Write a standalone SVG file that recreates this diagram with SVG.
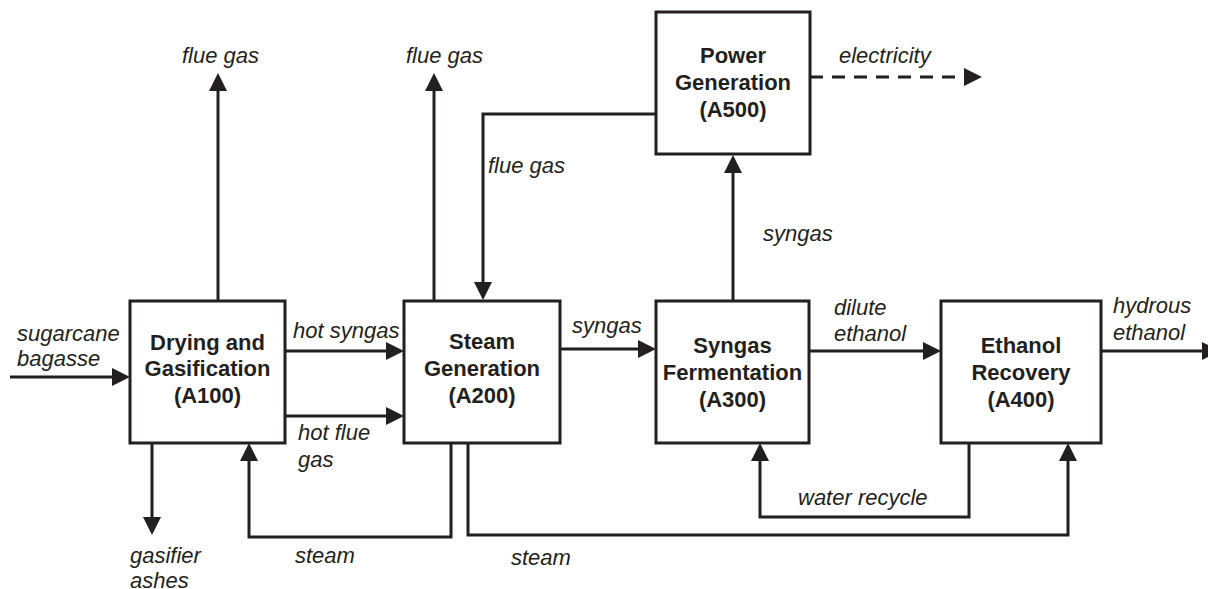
<svg xmlns="http://www.w3.org/2000/svg" width="1208" height="589" viewBox="0 0 1208 589">
<style>
.box{fill:#fff;stroke:#231f20;stroke-width:3}
.bt{font-family:"Liberation Sans",Arial,sans-serif;font-weight:bold;font-size:22px;fill:#231f20;text-anchor:middle}
.lb{font-family:"Liberation Sans",Arial,sans-serif;font-style:italic;font-size:22px;fill:#231f20}
.c{fill:none;stroke:#231f20;stroke-width:3;marker-end:url(#ah)}
.d{stroke-dasharray:13 9}
</style>
<defs>
<marker id="ah" markerUnits="userSpaceOnUse" markerWidth="18" markerHeight="18" refX="2" refY="9" orient="auto" viewBox="0 0 18 18">
<path d="M0,0 L18,9 L0,18 z" fill="#231f20"/>
</marker>
</defs>
<rect width="1208" height="589" fill="#fff"/>
<g id="connectors">
<path class="c" d="M10,377 H114"/>
<path class="c" d="M285,351 H388"/>
<path class="c" d="M285,416 H388"/>
<path class="c" d="M218,301 V89"/>
<path class="c" d="M434,300 V89"/>
<path class="c" d="M656,114 H483 V284"/>
<path class="c" d="M733,300 V171"/>
<path class="c d" d="M810,77 H966"/>
<path class="c" d="M560,349 H640"/>
<path class="c" d="M809,351 H925"/>
<path class="c" d="M1101,351 H1204"/>
<path class="c" d="M969,443 V517 H760 V459"/>
<path class="c" d="M451,443 V537 H249 V459"/>
<path class="c" d="M468,443 V535 H1068 V459"/>
<path class="c" d="M152,443 V519"/>
</g>
<g id="A100">
<rect class="box" x="130" y="301" width="155" height="142"/>
<text class="bt" x="207.5" y="350">Drying and</text>
<text class="bt" x="207.5" y="376">Gasification</text>
<text class="bt" x="207.5" y="403">(A100)</text>
</g>
<g id="A200">
<rect class="box" x="404" y="301" width="156" height="142"/>
<text class="bt" x="482" y="349">Steam</text>
<text class="bt" x="482" y="376">Generation</text>
<text class="bt" x="482" y="403">(A200)</text>
</g>
<g id="A300">
<rect class="box" x="656" y="301" width="153" height="142"/>
<text class="bt" x="732.5" y="353">Syngas</text>
<text class="bt" x="732.5" y="380">Fermentation</text>
<text class="bt" x="732.5" y="407">(A300)</text>
</g>
<g id="A400">
<rect class="box" x="941" y="301" width="160" height="142"/>
<text class="bt" x="1021" y="353">Ethanol</text>
<text class="bt" x="1021" y="380">Recovery</text>
<text class="bt" x="1021" y="407">(A400)</text>
</g>
<g id="A500">
<rect class="box" x="656" y="12" width="154" height="142"/>
<text class="bt" x="733" y="63">Power</text>
<text class="bt" x="733" y="90">Generation</text>
<text class="bt" x="733" y="117">(A500)</text>
</g>
<g id="labels">
<text class="lb" x="182" y="63">flue gas</text>
<text class="lb" x="406" y="63">flue gas</text>
<text class="lb" x="839" y="63">electricity</text>
<text class="lb" x="488" y="173">flue gas</text>
<text class="lb" x="763" y="241">syngas</text>
<text class="lb" x="17" y="341">sugarcane</text>
<text class="lb" x="17" y="366">bagasse</text>
<text class="lb" x="293" y="338">hot syngas</text>
<text class="lb" x="298" y="440">hot flue</text>
<text class="lb" x="298" y="467">gas</text>
<text class="lb" x="572" y="333">syngas</text>
<text class="lb" x="834" y="315">dilute</text>
<text class="lb" x="834" y="341">ethanol</text>
<text class="lb" x="1113" y="313">hydrous</text>
<text class="lb" x="1113" y="340">ethanol</text>
<text class="lb" x="798" y="505">water recycle</text>
<text class="lb" x="130" y="563">gasifier</text>
<text class="lb" x="130" y="588">ashes</text>
<text class="lb" x="295" y="563">steam</text>
<text class="lb" x="511" y="565">steam</text>
</g>
</svg>
